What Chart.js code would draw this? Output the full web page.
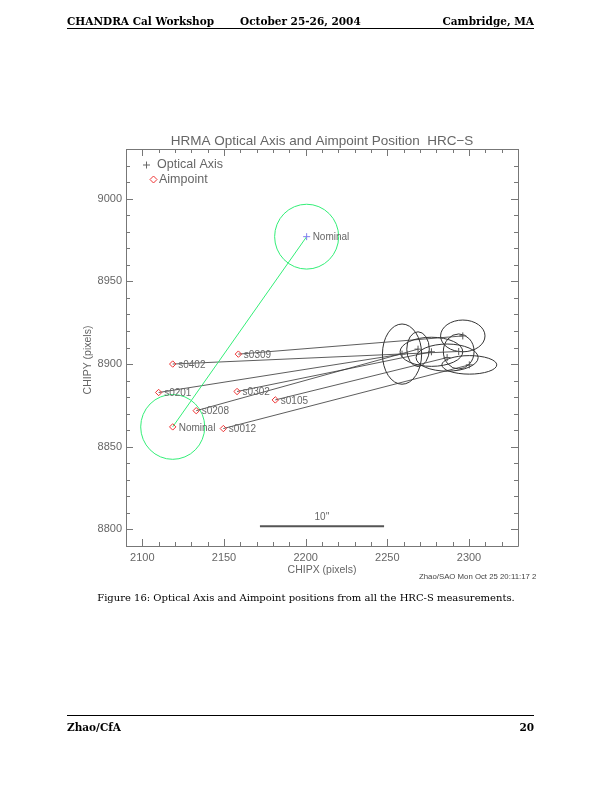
<!DOCTYPE html>
<html>
<head>
<meta charset="utf-8">
<script src="https://cdn.jsdelivr.net/npm/chart.js@4.4.0/dist/chart.umd.min.js"></script>
<style>
  body { margin: 0; background: #fff; }
  #page { position: relative; width: 612px; height: 792px; overflow: hidden; background: #fff; }
  #myChart { position: absolute; left: 0; top: 0; }
  .hd { position: absolute; font-family: "DejaVu Serif", serif; font-weight: bold; font-size: 10.5px; line-height: 13px; color: #000; white-space: nowrap; }
  .rule { position: absolute; left: 67px; width: 467px; border-top: 1px solid #000; }
  #caption { position: absolute; top: 592px; left: 0; width: 612px; text-align: center; font-family: "DejaVu Serif", serif; font-size: 10px; line-height: 12px; color: #000; }
</style>
</head>
<body>
<div id="page">
  <canvas id="myChart" width="612" height="792"></canvas>
  <div class="hd" style="left:67px; top:15px">CHANDRA Cal Workshop</div>
  <div class="hd" style="left:240px; top:15px">October 25-26, 2004</div>
  <div class="hd" style="right:78px; top:15px">Cambridge, MA</div>
  <div class="rule" style="top:28px"></div>
  <div id="caption">Figure 16: Optical Axis and Aimpoint positions from all the HRC-S measurements.</div>
  <div class="rule" style="top:715px"></div>
  <div class="hd" style="left:67px; top:721px">Zhao/CfA</div>
  <div class="hd" style="right:78px; top:721px">20</div>
</div>
<script>
const ctx = document.getElementById('myChart').getContext('2d');

// axis ticks
const xTicks = [2100, 2150, 2200, 2250, 2300];
const yTicks = [8800, 8850, 8900, 8950, 9000];

// aimpoints per observation
const runNames = ['s0402', 's0309', 's0201', 's0302', 's0105', 's0208', 's0012'];
const aimX = [2118.6, 2158.8, 2110.0, 2158.0, 2181.4, 2133.0, 2149.6];
const aimY = [8900.0, 8906.0, 8882.8, 8883.4, 8878.3, 8871.8, 8861.0];

// optical axis positions and their error ellipses
const axisX = [2293.7, 2296.2, 2259.0, 2277.0, 2286.6, 2268.8, 2300.2];
const axisY = [8907.6, 8917.0, 8906.0, 8907.4, 8903.9, 8909.0, 8899.5];
const errX = [9.4, 13.6, 12.0, 19.2, 19.0, 6.9, 16.8];
const errY = [10.6, 9.6, 18.2, 8.8, 8.2, 10.5, 5.6];

// nominal positions
const nominalAim = { x: 2118.6, y: 8862.0 };
const nominalAxis = { x: 2200.6, y: 8977.0 };
const nominalRadius = 19.6;

// 10 arcsec scale bar
const scaleBarX = [2172, 2248];
const scaleBarY = 8802;

const GRAY = '#666';
const FONT = '"Liberation Sans", Arial, sans-serif';

const overlay = {
    id: 'overlay',
    beforeDatasetsDraw(chart) {
        const { ctx, scales: { x, y } } = chart;
        ctx.save();
        const ell = (cx, cy, rx, ry, color) => {
            const px = x.getPixelForValue(cx);
            const py = y.getPixelForValue(cy);
            const prx = Math.abs(x.getPixelForValue(cx + rx) - px);
            const pry = Math.abs(y.getPixelForValue(cy + ry) - py);
            ctx.beginPath();
            ctx.ellipse(px, py, prx, pry, 0, 0, Math.PI * 2);
            ctx.strokeStyle = color;
            ctx.lineWidth = 1;
            ctx.stroke();
        };
        axisX.forEach((v, i) => ell(v, axisY[i], errX[i], errY[i], '#333'));
        ell(nominalAim.x, nominalAim.y, nominalRadius, nominalRadius, '#33ee77');
        ell(nominalAxis.x, nominalAxis.y, nominalRadius, nominalRadius, '#33ee77');
        ctx.restore();
    },
    afterDraw(chart) {
        const { ctx, chartArea: { left, right, top, bottom }, scales: { x, y } } = chart;
        ctx.save();

        // frame and inward ticks on all four sides
        ctx.strokeStyle = '#777';
        ctx.lineWidth = 1;
        ctx.beginPath();
        ctx.rect(Math.round(left) + 0.5, Math.round(top) + 0.5, Math.round(right - left), Math.round(bottom - top));
        for (let v = x.min; v <= x.max; v += 10) {
            const px = Math.round(x.getPixelForValue(v)) + 0.5;
            const len = xTicks.includes(v) ? 7 : 4;
            ctx.moveTo(px, bottom); ctx.lineTo(px, bottom - len);
            ctx.moveTo(px, top); ctx.lineTo(px, top + len);
        }
        for (let v = y.min; v <= y.max; v += 10) {
            const py = Math.round(y.getPixelForValue(v)) + 0.5;
            const len = yTicks.includes(v) ? 7 : 4;
            ctx.moveTo(left, py); ctx.lineTo(left + len, py);
            ctx.moveTo(right, py); ctx.lineTo(right - len, py);
        }
        ctx.stroke();

        // title
        ctx.fillStyle = GRAY;
        ctx.font = '13.5px ' + FONT;
        ctx.textAlign = 'center';
        ctx.textBaseline = 'middle';
        ctx.fillText('HRMA Optical Axis and Aimpoint Position  HRC\u2212S', (left + right) / 2, 141);

        // y axis title, a bit below the middle as in the original
        ctx.save();
        ctx.translate(88, 360);
        ctx.rotate(-Math.PI / 2);
        ctx.font = '10.5px ' + FONT;
        ctx.fillText('CHIPY (pixels)', 0, 0);
        ctx.restore();

        // legend
        ctx.textAlign = 'left';
        ctx.font = '12.5px ' + FONT;
        ctx.strokeStyle = GRAY;
        ctx.beginPath();
        ctx.moveTo(left + 17, top + 16); ctx.lineTo(left + 24, top + 16);
        ctx.moveTo(left + 20.5, top + 12.5); ctx.lineTo(left + 20.5, top + 19.5);
        ctx.stroke();
        ctx.fillText('Optical Axis', left + 31, top + 16);
        ctx.strokeStyle = '#ee3333';
        ctx.beginPath();
        ctx.moveTo(left + 24, top + 30.5); ctx.lineTo(left + 27.5, top + 27);
        ctx.lineTo(left + 31, top + 30.5); ctx.lineTo(left + 27.5, top + 34); ctx.closePath();
        ctx.stroke();
        ctx.fillText('Aimpoint', left + 33, top + 30.5);

        // point labels
        ctx.font = '10px ' + FONT;
        runNames.forEach((n, i) => {
            ctx.fillText(n, x.getPixelForValue(aimX[i]) + 5.5, y.getPixelForValue(aimY[i]) + 1);
        });
        ctx.fillText('Nominal', x.getPixelForValue(nominalAim.x) + 6, y.getPixelForValue(nominalAim.y) + 1);
        ctx.fillText('Nominal', x.getPixelForValue(nominalAxis.x) + 6, y.getPixelForValue(nominalAxis.y) + 1);

        // scale bar label
        ctx.textAlign = 'center';
        ctx.fillText("10''", (x.getPixelForValue(scaleBarX[0]) + x.getPixelForValue(scaleBarX[1])) / 2, y.getPixelForValue(scaleBarY) - 9);

        // time stamp, cut off by the page edge
        ctx.beginPath();
        ctx.rect(0, 0, 536, 792);
        ctx.clip();
        ctx.textAlign = 'left';
        ctx.fillStyle = '#444';
        ctx.font = '7.8px ' + FONT;
        ctx.fillText('Zhao/SAO Mon Oct 25 20:11:17 2004', 419, 577);
        ctx.restore();
    }
};

const linkSets = runNames.map((n, i) => ({
    label: n,
    data: [{ x: aimX[i], y: aimY[i] }, { x: axisX[i], y: axisY[i] }],
    showLine: true,
    borderColor: '#333',
    borderWidth: 0.8,
    pointRadius: 0
}));

const datasets = [
    {
        label: 'Aimpoint',
        data: aimX.map((v, i) => ({ x: v, y: aimY[i] })).concat([nominalAim]),
        pointStyle: 'rectRot',
        pointRadius: 3.2,
        borderColor: '#ee3333',
        backgroundColor: 'rgba(0,0,0,0)',
        borderWidth: 1
    },
    {
        label: 'Optical Axis',
        data: axisX.map((v, i) => ({ x: v, y: axisY[i] })),
        pointStyle: 'cross',
        pointRadius: 3.5,
        borderColor: '#555',
        borderWidth: 1
    },
    {
        label: 'Nominal Optical Axis',
        data: [nominalAxis],
        pointStyle: 'cross',
        pointRadius: 3.5,
        borderColor: '#8080ee',
        borderWidth: 1
    },
    {
        label: 'Nominal link',
        data: [nominalAim, nominalAxis],
        showLine: true,
        borderColor: '#33ee77',
        borderWidth: 1,
        pointRadius: 0
    },
    {
        label: 'Scale bar',
        data: [{ x: scaleBarX[0], y: scaleBarY }, { x: scaleBarX[1], y: scaleBarY }],
        showLine: true,
        borderColor: '#555',
        borderWidth: 2,
        pointRadius: 0
    }
].concat(linkSets);

new Chart(ctx, {
    type: 'scatter',
    data: { datasets: datasets },
    options: {
        responsive: false,
        animation: false,
        layout: { padding: { left: 82, right: 94, top: 149, bottom: 216 } },
        plugins: {
            legend: { display: false },
            tooltip: { enabled: false },
            title: { display: false }
        },
        scales: {
            x: {
                type: 'linear',
                min: 2090,
                max: 2330,
                afterBuildTicks: (s) => { s.ticks = xTicks.map(v => ({ value: v })); },
                afterFit: (s) => { s.height = 30; },
                grid: { display: false, drawTicks: false },
                border: { display: false },
                ticks: { color: GRAY, font: { family: FONT, size: 11 }, padding: 5, maxRotation: 0, callback: (v) => String(v) },
                title: { display: true, text: 'CHIPX (pixels)', color: GRAY, font: { family: FONT, size: 10.5 }, padding: 0 }
            },
            y: {
                type: 'linear',
                min: 8790,
                max: 9030,
                afterBuildTicks: (s) => { s.ticks = yTicks.map(v => ({ value: v })); },
                afterFit: (s) => { s.width = 44; },
                grid: { display: false, drawTicks: false },
                border: { display: false },
                ticks: { color: GRAY, font: { family: FONT, size: 11 }, padding: 4, callback: (v) => String(v) },
                title: { display: false }
            }
        }
    },
    plugins: [overlay]
});
</script>
</body>
</html>
